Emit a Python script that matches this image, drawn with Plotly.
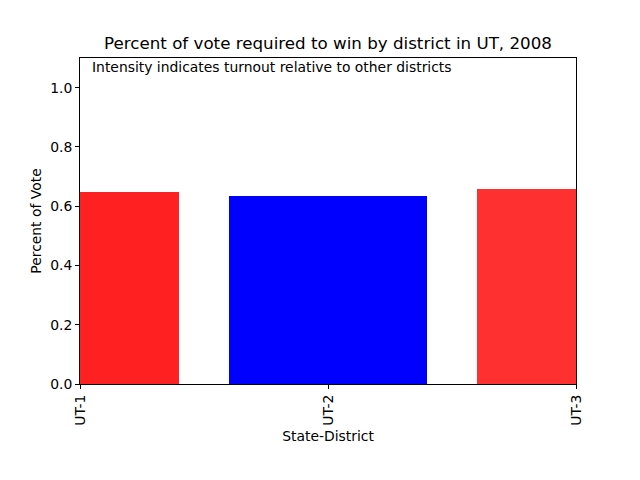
import plotly.graph_objects as go

districts = ["UT-1", "UT-2", "UT-3"]
vote_pct = [0.648, 0.634, 0.658]
bar_colors = ["rgba(255,0,0,0.87)", "rgba(0,0,255,1)", "rgba(255,0,0,0.81)"]
positions = [0, 1, 2]

# page body has an 8px default margin, so shift the layout up/left by 8px
fig = go.Figure()
fig.add_trace(go.Bar(
    x=positions, y=vote_pct, width=0.8,
    marker=dict(color=bar_colors, line=dict(width=0)),
))

fig.update_layout(
    width=640, height=480,
    margin=dict(l=72, r=72, t=50, b=104),
    paper_bgcolor="white", plot_bgcolor="white",
    font=dict(family="DejaVu Sans", size=13.9, color="black"),
    showlegend=False,
    title=dict(text="Percent of vote required to win by district in UT, 2008",
               x=(328 - 8) / 640, xanchor="center", y=1 - 35/480, yanchor="middle",
               font=dict(size=16.7)),
    bargap=0,
)
fig.update_xaxes(
    range=[0, 2], tickvals=positions, ticktext=districts, tickangle=-90,
    ticks="outside", ticklen=4, tickcolor="black",
    showline=True, linecolor="black", linewidth=1, mirror=True,
    showgrid=False, zeroline=False, automargin=False,
    title=dict(text="State-District", standoff=6, font=dict(size=13.9)),
)
fig.update_yaxes(
    range=[0, 1.1], tickvals=[0, 0.2, 0.4, 0.6, 0.8, 1.0], tickformat=".1f",
    ticks="outside", ticklen=4, tickcolor="black",
    showline=True, linecolor="black", linewidth=1, mirror=True,
    showgrid=False, zeroline=False, automargin=False,
    title=dict(text="Percent of Vote", standoff=5, font=dict(size=13.9)),
)
fig.add_annotation(
    text="Intensity indicates turnout relative to other districts",
    xref="paper", yref="paper", x=10/496, y=1 - 9/326,
    xanchor="left", yanchor="middle", showarrow=False, font=dict(size=13.9),
)
fig.write_html("out.html")
